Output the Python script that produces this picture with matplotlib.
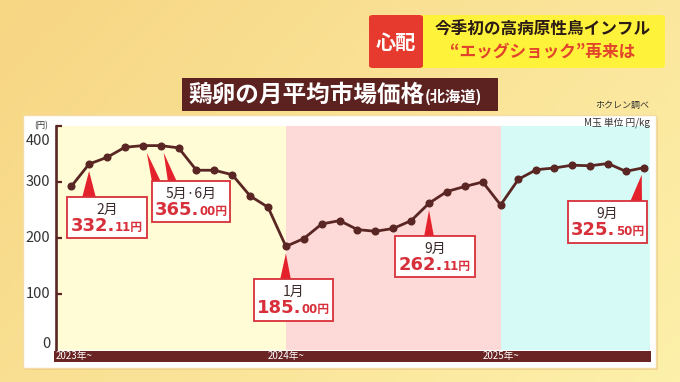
import matplotlib.pyplot as plt
import numpy as np
from matplotlib.patches import Rectangle, Polygon, FancyBboxPatch

plt.rcParams['font.family'] = ['Noto Sans CJK JP', 'DejaVu Sans']

# monthly average price of eggs (M size, yen/kg), 2023-01 .. 2025-09
prices = [292, 332.11, 344, 362, 365, 365, 361, 321, 321, 313, 275, 255,
          185, 199, 225, 231, 215, 212, 217, 231, 262.11, 283, 292, 300,
          259, 305, 322, 325, 330, 329, 333, 319, 325.5]
years = ['2023年~', '2024年~', '2025年~']
year_start = [0, 12, 24]
year_colors = ['#FFFCD6', '#FDDAD7', '#D6FAF5']
yticks = [0, 100, 200, 300, 400]
callout_idx = [[1], [4, 5], [12], [20], [32]]

brown = '#5A2623'
red = '#D8303A'

W, H = 680, 382
fig = plt.figure(figsize=(6.8, 3.82), dpi=100)


def fx(p):
    return p / W


def fy(p):
    return 1 - p / H


# background gradient
bg = fig.add_axes([0, 0, 1, 1], zorder=-3)
xx, yy = np.meshgrid(np.linspace(0, 1, 120), np.linspace(0, 1, 70))
t = np.clip(0.65 * xx + 0.35 * yy, 0, 1)[..., None]
c1 = np.array([247, 214, 132]) / 255
c2 = np.array([253, 240, 170]) / 255
bg.imshow(c1 * (1 - t) + c2 * t, extent=[0, 1, 0, 1], aspect='auto')
bg.set_xlim(0, 1)
bg.set_ylim(0, 1)
bg.axis('off')

# white panel
fig.patches.append(Rectangle((fx(25), fy(370)), (656 - 23) / W, (368 - 115) / H,
                             transform=fig.transFigure, fc='#E8C47A', ec='none',
                             alpha=0.6, zorder=-2.5))
fig.patches.append(Rectangle((fx(23), fy(368)), (656 - 23) / W, (368 - 115) / H,
                             transform=fig.transFigure, fc='white', ec='#F3DCA5',
                             lw=1, zorder=-2))

ax = fig.add_axes([fx(56), fy(350), (650 - 56) / W, (350 - 126) / H], zorder=0)
ax.set_facecolor('none')
xmin, xmax = -0.85, 32.35
ax.set_xlim(xmin, xmax)
ax.set_ylim(0, 400)

for k, start in enumerate(year_start):
    left = start if k > 0 else xmin
    right = year_start[k + 1] if k + 1 < len(year_start) else xmax
    ax.axvspan(left, right, color=year_colors[k], lw=0, zorder=0)

ax.plot(range(len(prices)), prices, color=brown, lw=2, marker='o', ms=4.8, zorder=3)

for s in ['top', 'right', 'bottom']:
    ax.spines[s].set_visible(False)
ax.spines['left'].set_color(brown)
ax.spines['left'].set_linewidth(1.9)
ax.set_xticks([])
ax.set_yticks(yticks[1:])
ax.tick_params(axis='y', direction='in', length=4, width=1.6, color=brown, labelleft=False)

for v in yticks:
    dy = -15 if v == 400 else (6 if v == 0 else 0)
    ax.annotate(str(v), xy=(0, v), xycoords=('axes fraction', 'data'),
                xytext=(-4, dy * 0.72), textcoords='offset points',
                ha='right', va='center', fontsize=10.5, color='#333333',
                annotation_clip=False)
fig.text(fx(41), fy(126), '(円)', fontsize=6, ha='center', va='center', color='#333333')

# bottom bar with year labels
fig.patches.append(Rectangle((fx(54), fy(362)), (651 - 54) / W, 11.5 / H,
                             transform=fig.transFigure, fc='#6A2424', ec='none', zorder=1))
to_fig = fig.transFigure.inverted()
for k, start in enumerate(year_start):
    px, _ = ax.transData.transform((start, 0))
    if k == 0:
        fig.text(fx(56), fy(356.5), years[k], ha='left', va='center', fontsize=7,
                 color='white', zorder=2)
    else:
        fig.text(to_fig.transform((px, 0))[0], fy(356.5), years[k], ha='center',
                 va='center', fontsize=7, color='white', zorder=2)

# title
fig.patches.append(Rectangle((fx(182), fy(111)), (498 - 182) / W, 33 / H,
                             transform=fig.transFigure, fc='#5C2220', ec='none', zorder=1))
t_main = fig.text(fx(188), fy(95), '鶏卵の月平均市場価格', fontsize=17, fontweight='bold',
                  color='white', ha='left', va='center', zorder=2)
t_sub = fig.text(fx(428), fy(97), '(北海道)', fontsize=11, fontweight='bold',
                 color='white', ha='left', va='center', zorder=2)

# header
fig.patches.append(FancyBboxPatch((fx(369), fy(68)), (665 - 369) / W, 53 / H,
                                  boxstyle='round,pad=0,rounding_size=0.006',
                                  transform=fig.transFigure, fc='#FFF23A', ec='none', zorder=1))
fig.patches.append(FancyBboxPatch((fx(369), fy(68)), (423 - 369) / W, 53 / H,
                                  boxstyle='round,pad=0,rounding_size=0.006',
                                  transform=fig.transFigure, fc='#E63A2E', ec='none', zorder=1))
fig.text(fx(396), fy(42), '心配', fontsize=14.5, fontweight='bold', color='white',
         ha='center', va='center', zorder=2)
fig.text(fx(543), fy(30), '今季初の高病原性鳥インフル', fontsize=12, fontweight='bold',
         color='#2A1C14', ha='center', va='center', zorder=2)
fig.text(fx(543), fy(52), '“エッグショック”再来は', fontsize=12, fontweight='bold',
         color='#E2432B', ha='center', va='center', zorder=2)

fig.text(fx(649), fy(105), 'ホクレン調べ', fontsize=6.5, color='#333333',
         ha='right', va='center')
fig.text(fx(650), fy(123), 'M玉 単位 円/kg', fontsize=7, color='#333333',
         ha='right', va='center')

# callouts
boxes = [(67, 197, 80, 41), (152, 181, 78, 41), (254, 279, 79, 42),
         (395, 236, 80, 41), (568, 201, 79, 42)]
bases = [[(82, 96)], [(152, 161), (168, 177)], [(280, 291)], [(424, 434)], [(630, 642)]]
apex_dx = [[0], [4, 3], [0], [0], [-2]]

value_texts = []
for idx, box, base, adx in zip(callout_idx, boxes, bases, apex_dx):
    bx, by, bw, bh = box
    for i, (b0, b1), dx in zip(idx, base, adx):
        px, py = ax.transData.transform((i, prices[i]))
        ax_pt = to_fig.transform((px + dx, py - 7))
        fig.patches.append(Polygon([ax_pt, (fx(b0), fy(by + 1)), (fx(b1), fy(by + 1))],
                                   closed=True, transform=fig.transFigure,
                                   fc='#E3222C', ec='none', zorder=3))
    fig.patches.append(Rectangle((fx(bx), fy(by + bh)), bw / W, bh / H,
                                 transform=fig.transFigure, fc='white', ec=red,
                                 lw=1.3, zorder=4))
    month = '·'.join(f'{i % 12 + 1}月' for i in idx)
    fig.text(fx(bx + bw / 2), fy(by + 13), month, fontsize=10, color='#3A2A2A',
             ha='center', va='center', zorder=5)
    whole, dec = f'{prices[idx[0]]:.2f}'.split('.')
    big = fig.text(0, fy(by + 34), whole + '.', fontsize=13, fontweight='bold',
                   family='DejaVu Sans', color=red, ha='left', va='baseline', zorder=5)
    small = fig.text(0, fy(by + 34), dec + '円', fontsize=8.5, fontweight='bold',
                     family=['DejaVu Sans', 'Noto Sans CJK JP'], color=red,
                     ha='left', va='baseline', zorder=5)
    value_texts.append((bx + bw / 2, big, small))

fig.canvas.draw()
r = fig.canvas.get_renderer()
for cx, big, small in value_texts:
    w1 = big.get_window_extent(r).width
    w2 = small.get_window_extent(r).width
    x0 = cx - (w1 + w2) / 2
    big.set_x(fx(x0))
    small.set_x(fx(x0 + w1))
t_sub.set_x(fx(t_main.get_window_extent(r).x1 + 1))

fig.savefig('out.png', dpi=100)
